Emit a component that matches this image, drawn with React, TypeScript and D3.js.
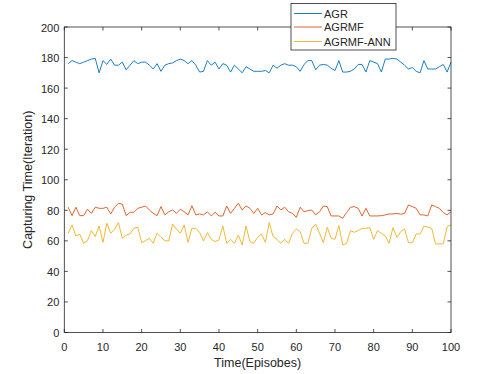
import React from 'react';
import * as d3 from 'd3';

// episodes 1..100
const episodes: number[] = d3.range(1, 101);

const agr: number[] = [
  176, 178, 177, 176, 177, 178, 179, 179.5, 170, 178,
  175.5, 179, 175, 175, 177, 172, 175, 178, 176, 177,
  177, 175, 172.5, 176, 171, 175, 176, 176.5, 178, 179,
  178, 176, 178, 175, 170.5, 171, 178, 175, 177, 172.5,
  176, 175, 170.5, 175, 172.5, 170, 174, 172.5, 171, 171,
  171, 171.5, 170, 175, 173, 175, 176, 175, 175, 174,
  171, 175.5, 178, 178, 172, 175, 175.5, 175, 173, 171.5,
  178, 170.5, 170.5, 171, 172.5, 175.5, 175.5, 170.5, 178, 177,
  176, 170.5, 179, 179, 179.5, 179, 177, 175, 172.5, 173.5,
  171, 170, 178, 172.5, 172.5, 172.5, 174, 175.5, 170.5, 177,
];

const agrmf: number[] = [
  82, 76.5, 82, 76.5, 76.5, 80.7, 78, 82, 81.3, 81.3,
  82, 77.6, 82, 84.6, 84, 76.5, 78.7, 78.7, 81.3, 82,
  82.8, 80.2, 78, 76.5, 82.4, 77, 79, 80.2, 78, 80.7,
  79, 77, 83, 77, 77.6, 77, 79, 76.3, 78.7, 76.3,
  76.3, 82.8, 78, 81.3, 84.6, 80.2, 82.8, 81.3, 78, 81.3,
  77, 78.5, 77, 77.6, 82.8, 80.2, 82, 79, 78, 75.4,
  82, 79, 79.8, 80.2, 77, 79, 82.8, 82.4, 76.3, 76.3,
  76.3, 74.8, 78.5, 82, 82.4, 81.3, 76.3, 81.3, 76.3, 76.3,
  76.3, 76.5, 77, 77.6, 77.6, 78, 77.4, 78, 83.5, 82.4,
  81.3, 77, 77, 76.3, 83.5, 82.4, 81.3, 78.5, 77, 79,
];

const agrmfAnn: number[] = [
  65, 70.4, 63.2, 64.3, 58.4, 60.1, 66.7, 62.8, 69.7, 59,
  71.5, 65, 67.6, 71.9, 61.7, 63.8, 64.5, 68.2, 68.9, 58.8,
  60.1, 61.7, 58.4, 65, 62.3, 60.1, 59.9, 71, 67.6, 65,
  70.4, 59, 68.2, 68.2, 65.4, 59.9, 65.4, 61, 59.5, 60.6,
  69.7, 58.4, 61, 58.4, 63.8, 57.3, 69.7, 59.5, 58.4, 62.3,
  64.5, 59, 71.9, 62.8, 61, 58.4, 61, 58.4, 65, 67.8,
  66, 58.4, 58.4, 68.2, 71, 65, 58.8, 68.9, 61.7, 61,
  70, 57.3, 58.4, 66.7, 65.6, 66.7, 68.2, 68.2, 68.7, 61,
  66.7, 65, 63.2, 58.4, 68.7, 62.3, 66, 67.8, 58.8, 58.8,
  64.5, 64.5, 69.7, 68.9, 68.2, 58, 58, 58, 69.3, 70.4,
];

const seriesNames: string[] = ['AGR', 'AGRMF', 'AGRMF-ANN'];
const seriesColors: string[] = ['#0072BD', '#D95319', '#EDB120'];
const xTicks: number[] = [0, 10, 20, 30, 40, 50, 60, 70, 80, 90, 100];
const yTicks: number[] = [0, 20, 40, 60, 80, 100, 120, 140, 160, 180, 200];

const W = 498;
const H = 374;
const plot = { left: 64.3, right: 451, top: 27, bottom: 332.5 };
const axisColor = '#262626';
const font = '"Liberation Sans", Arial, Helvetica, sans-serif';

export default function App() {
  const x = d3.scaleLinear().domain([0, 100]).range([plot.left, plot.right]);
  const y = d3.scaleLinear().domain([0, 200]).range([plot.bottom, plot.top]);

  const lineGen = d3
    .line<number>()
    .x((_, i) => x(episodes[i]))
    .y((v) => y(v));

  const allSeries = [agr, agrmf, agrmfAnn];
  const tickLen = 3.5;

  // legend placement
  const leg = { x: 291, y: 3.5, w: 105, h: 46.5 };
  const legRows = [13.5, 27, 41.5];

  return (
    <svg
      width={W}
      height={H}
      style={{ position: 'absolute', left: 0, top: 0, background: '#fff' }}
      fontFamily={font}
    >
      <rect x={0} y={0} width={W} height={H} fill="#fff" />

      {/* series */}
      {allSeries.map((s, k) => (
        <path
          key={seriesNames[k]}
          d={lineGen(s) || ''}
          fill="none"
          stroke={seriesColors[k]}
          strokeWidth={0.9}
        />
      ))}

      {/* box */}
      <rect
        x={plot.left}
        y={plot.top}
        width={plot.right - plot.left}
        height={plot.bottom - plot.top}
        fill="none"
        stroke={axisColor}
        strokeWidth={0.8}
      />

      {/* x ticks (inward, top and bottom) */}
      {xTicks.map((t) => (
        <g key={'x' + t}>
          <line x1={x(t)} x2={x(t)} y1={plot.bottom} y2={plot.bottom - tickLen} stroke={axisColor} strokeWidth={0.8} />
          <line x1={x(t)} x2={x(t)} y1={plot.top} y2={plot.top + tickLen} stroke={axisColor} strokeWidth={0.8} />
          <text x={x(t)} y={plot.bottom + 18} fontSize={11} textAnchor="middle" fill={axisColor}>
            {t}
          </text>
        </g>
      ))}

      {/* y ticks (inward, left and right) */}
      {yTicks.map((t) => (
        <g key={'y' + t}>
          <line x1={plot.left} x2={plot.left + tickLen} y1={y(t)} y2={y(t)} stroke={axisColor} strokeWidth={0.8} />
          <line x1={plot.right} x2={plot.right - tickLen} y1={y(t)} y2={y(t)} stroke={axisColor} strokeWidth={0.8} />
          <text x={plot.left - 5} y={y(t) + 4.5} fontSize={11} textAnchor="end" fill={axisColor}>
            {t}
          </text>
        </g>
      ))}

      {/* axis labels */}
      <text x={(plot.left + plot.right) / 2} y={367} fontSize={12.5} textAnchor="middle" fill={axisColor}>
        Time(Episobes)
      </text>
      <text
        transform={`translate(32, ${(plot.top + plot.bottom) / 2}) rotate(-90)`}
        fontSize={12.5}
        textAnchor="middle"
        fill={axisColor}
      >
        Capturing Time(Iteration)
      </text>

      {/* legend */}
      <rect x={leg.x} y={leg.y} width={leg.w} height={leg.h} fill="#fff" stroke={axisColor} strokeWidth={0.8} />
      {seriesNames.map((name, k) => (
        <g key={'leg' + name}>
          <line x1={294} x2={322} y1={legRows[k]} y2={legRows[k]} stroke={seriesColors[k]} strokeWidth={0.9} />
          <text x={324} y={legRows[k] + 4} fontSize={11} fill={axisColor}>
            {name}
          </text>
        </g>
      ))}
    </svg>
  );
}
